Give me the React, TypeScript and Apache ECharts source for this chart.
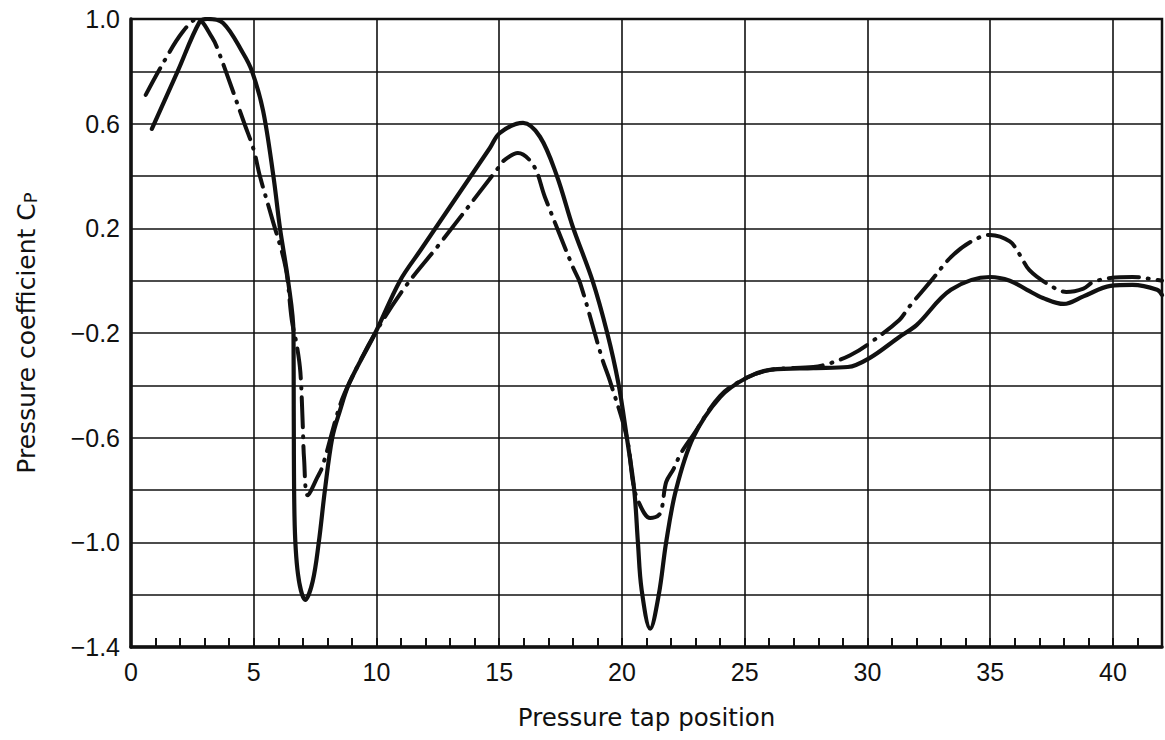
import React, { useEffect, useRef } from "react";
import * as echarts from "echarts";

// Pressure tap position (x) vs pressure coefficient Cp (y)
const solidCurve: [number, number][] = [
  [0.85, 0.58], [1.9, 0.8], [2.8, 0.99], [3.1, 1.0], [3.75, 0.985], [4.56, 0.87],
  [4.93, 0.8], [5.38, 0.65], [5.8, 0.4], [6.07, 0.2], [6.4, 0.0], [6.62, -0.2],
  [6.63, -0.5], [6.66, -0.9], [6.8, -1.12], [7.1, -1.22], [7.4, -1.15], [7.65, -1.0],
  [7.9, -0.8], [8.2, -0.6], [8.5, -0.5], [8.9, -0.39], [9.95, -0.2], [10.96, 0.0],
  [11.8, 0.117], [14.62, 0.507], [15.03, 0.565], [15.97, 0.603], [16.66, 0.55],
  [17.35, 0.4], [18.0, 0.205], [18.8, 0.0], [19.4, -0.2], [19.85, -0.39], [20.2, -0.6],
  [20.5, -0.8], [20.65, -1.0], [20.8, -1.18], [21.15, -1.33], [21.5, -1.2], [21.8, -1.0],
  [22.2, -0.8], [22.9, -0.6], [24.0, -0.445], [25.1, -0.37], [26.1, -0.34], [27.8, -0.334],
  [29.2, -0.33], [30.1, -0.295], [31.3, -0.215], [32.0, -0.17], [33.4, -0.035],
  [35.0, 0.014], [35.8, 0.0], [36.5, -0.035], [37.15, -0.066], [38.0, -0.089],
  [38.8, -0.06], [39.9, -0.02], [40.8, -0.016], [41.8, -0.035], [42.0, -0.055],
];

const dashDotCurve: [number, number][] = [
  [0.6, 0.71], [1.3, 0.83], [2.1, 0.95], [2.7, 1.0], [3.3, 0.93], [3.55, 0.88],
  [4.64, 0.595], [5.0, 0.5], [5.25, 0.4], [5.74, 0.24], [6.3, 0.05], [6.55, -0.15],
  [6.76, -0.25], [6.9, -0.35], [7.0, -0.56], [7.05, -0.68], [7.2, -0.82], [7.6, -0.75],
  [7.8, -0.71], [8.5, -0.48], [8.9, -0.39], [9.95, -0.2], [11.2, -0.02], [12.6, 0.144],
  [14.95, 0.43], [15.2, 0.46], [15.76, 0.488], [16.4, 0.44], [16.86, 0.32], [18.0, 0.052],
  [18.3, -0.01], [19.2, -0.3], [19.5, -0.38], [20.2, -0.6], [20.45, -0.77], [20.65, -0.84],
  [21.15, -0.907], [21.55, -0.89], [21.8, -0.77], [22.1, -0.72], [22.4, -0.66],
  [22.9, -0.59], [24.0, -0.44], [25.1, -0.37], [26.1, -0.34], [27.8, -0.33],
  [28.5, -0.315], [29.3, -0.285], [30.0, -0.245], [31.3, -0.15], [31.7, -0.1],
  [32.6, 0.0], [33.4, 0.09], [34.2, 0.148], [35.0, 0.175], [35.8, 0.15], [36.2, 0.1],
  [36.6, 0.04], [37.4, -0.016], [38.1, -0.043], [38.8, -0.03], [39.2, -0.005],
  [39.9, 0.01], [40.8, 0.014], [41.8, 0.003], [42.0, 0.0],
];

const xTitle = "Pressure tap position";
const yTitle = "Pressure coefficient C";
const ySub = "P";

const FONT = "'Liberation Sans', Arial, Helvetica, sans-serif";
const TITLE_FONT = "'DejaVu Sans', 'Liberation Sans', sans-serif";

export default function App() {
  const ref = useRef<HTMLDivElement>(null);
  useEffect(() => {
    if (!ref.current) return;
    const chart = echarts.init(ref.current, undefined, { renderer: "svg" });
    chart.setOption({
      animation: false,
      backgroundColor: "#ffffff",
      grid: {
        left: 131,
        top: 19,
        right: 3,
        bottom: 93,
        show: true,
        borderColor: "#111",
        borderWidth: 2.5,
      },
      xAxis: [
        {
          type: "value",
          min: 0,
          max: 42,
          interval: 1,
          position: "bottom",
          axisLine: { show: true, onZero: false, lineStyle: { color: "#111", width: 3.5 } },
          axisTick: { show: true, inside: true, length: 9, lineStyle: { color: "#111", width: 2 } },
          splitLine: { show: false },
          axisLabel: {
            color: "#111",
            fontSize: 25,
            fontFamily: FONT,
            margin: 12,
            formatter: (v: number) => (Math.round(v) % 5 === 0 && Math.round(v) <= 40 ? String(Math.round(v)) : ""),
          },
          name: xTitle,
          nameLocation: "middle",
          nameGap: 58,
          nameTextStyle: { color: "#111", fontSize: 24.5, fontFamily: TITLE_FONT },
        },
        {
          type: "value",
          min: 0,
          max: 42,
          interval: 5,
          position: "bottom",
          show: true,
          axisLine: { show: false, onZero: false },
          axisTick: { show: false },
          axisLabel: { show: false },
          splitLine: { show: true, lineStyle: { color: "#111", width: 1.6 } },
        },
      ],
      yAxis: {
        type: "value",
        min: -1.4,
        max: 1.0,
        interval: 0.2,
        axisLine: { show: true, onZero: false, lineStyle: { color: "#111", width: 3.5 } },
        axisTick: { show: false },
        splitLine: { show: true, lineStyle: { color: "#111", width: 1.6 } },
        axisLabel: {
          color: "#111",
          fontSize: 25,
          fontFamily: FONT,
          margin: 11,
          formatter: (v: number) => {
            const k = Math.round((v + 1.4) / 0.2);
            if (k % 2 !== 0) return "";
            return v.toFixed(1).replace("-", "\u2212");
          },
        },
        name: `${yTitle}{sub|${ySub}}`,
        nameLocation: "middle",
        nameGap: 92,
        nameRotate: 90,
        nameTextStyle: {
          color: "#111",
          fontSize: 25,
          fontFamily: TITLE_FONT,
          rich: {
            sub: { fontSize: 18, fontFamily: TITLE_FONT, color: "#111", verticalAlign: "bottom", padding: [8, 0, 0, 0] },
          },
        },
      },
      series: [
        {
          type: "line",
          xAxisIndex: 0,
          data: solidCurve,
          smooth: 0.35,
          showSymbol: false,
          symbol: "none",
          lineStyle: { color: "#111", width: 4.2, cap: "round", join: "round" },
        },
        {
          type: "line",
          xAxisIndex: 0,
          data: dashDotCurve,
          smooth: 0.35,
          showSymbol: false,
          symbol: "none",
          lineStyle: {
            color: "#111",
            width: 4,
            type: [30, 9, 1, 9],
            cap: "round",
            join: "round",
          },
        },
      ],
    });
    return () => chart.dispose();
  }, []);
  return (
    <div
      ref={ref}
      style={{ position: "fixed", left: 0, top: 0, width: 1165, height: 740, background: "#fff" }}
    />
  );
}
